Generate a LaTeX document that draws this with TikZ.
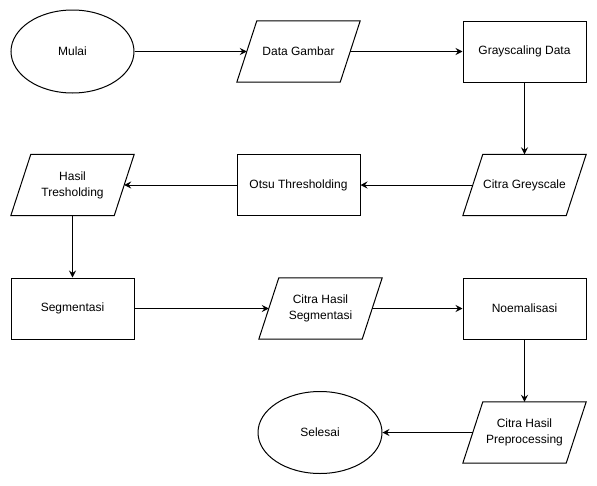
\documentclass[tikz,border=0pt]{standalone}
\usepackage{fontspec}
\setmainfont{Liberation Sans}
\usetikzlibrary{arrows.meta,shapes.geometric}
\newcommand\iobox[1]{\draw[ioline] ([xshift=-10pt]#1.south west) -- ([xshift=10pt]#1.north west) -- ([xshift=10pt]#1.north east) -- ([xshift=-10pt]#1.south east) -- cycle;}
\begin{document}
\begin{tikzpicture}[x=1pt,y=-1pt,
  base/.style={font=\fontsize{12}{16}\selectfont, align=center, text=black},
  proc/.style={base, draw, line width=1pt, minimum width=123pt, minimum height=61pt, inner sep=0pt},
  term/.style={base, draw, ellipse, line width=1pt, minimum width=123pt, minimum height=83pt, inner sep=0pt},
  io/.style={base, minimum width=103pt, minimum height=61pt, inner sep=0pt},
  ioline/.style={draw, line width=1pt, line join=miter},
  flow/.style={line width=1pt, -{Stealth[length=7pt,width=7pt,inset=2.5pt]}}]
\fill[white] (0,0) rectangle (597,485);
\useasboundingbox (0,0) rectangle (597,485);
\node[term] (mulai) at (72.5,51.5) {Mulai};
\node[io] (dg) at (298.5,51.5) {Data Gambar};
\node[proc] (gd) at (524.5,51.5) {Grayscaling Data};
\node[io] (cg) at (524.5,185) {Citra Greyscale};
\node[proc] (otsu) at (298.5,185) {Otsu Thresholding};
\node[io] (ht) at (72.5,185) {Hasil\\Tresholding};
\node[proc] (seg) at (72.5,308.5) {Segmentasi};
\node[io] (chs) at (320.5,308.5) {Citra Hasil\\Segmentasi};
\node[proc] (norm) at (524.5,308.5) {Noemalisasi};
\node[io] (chp) at (524.5,432.5) {Citra Hasil\\Preprocessing};
\node[term, minimum width=124pt, minimum height=82pt] (sel) at (320,432.5) {Selesai};
\iobox{dg}
\iobox{cg}
\iobox{ht}
\iobox{chs}
\iobox{chp}
\draw[flow] (mulai) -- (dg);
\draw[flow] (dg) -- (gd);
\draw[flow] (gd) -- (cg);
\draw[flow] (cg) -- (otsu);
\draw[flow] (otsu) -- (ht);
\draw[flow] (ht) -- (seg);
\draw[flow] (seg) -- (chs);
\draw[flow] (chs) -- (norm);
\draw[flow] (norm) -- (chp);
\draw[flow] (chp) -- (sel);
\end{tikzpicture}
\end{document}
